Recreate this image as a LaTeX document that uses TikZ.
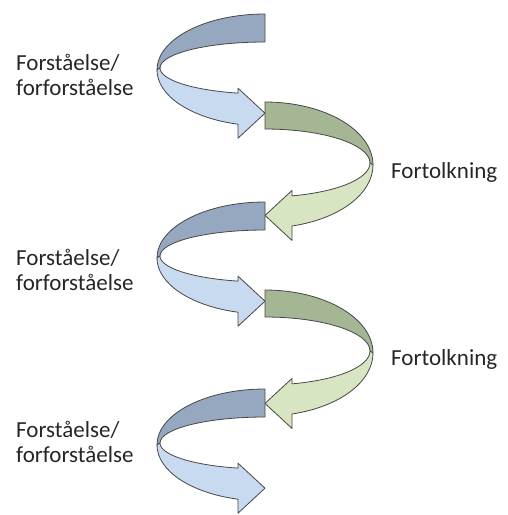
\documentclass[tikz,border=0pt]{standalone}
\usepackage{fontspec}
\setmainfont{Carlito}
\begin{document}
\begin{tikzpicture}[x=1pt,y=-1pt]
\definecolor{bluebk}{HTML}{96A8C0}
\definecolor{bluefr}{HTML}{C8DAF0}
\definecolor{grnbk}{HTML}{A5B695}
\definecolor{grnfr}{HTML}{D7E5C2}
\tikzset{
  rim/.style={draw=black!72, line width=0.8pt, line join=round},
  lbl/.style={anchor=base west, inner sep=0pt, font=\fontsize{23}{25}\selectfont, text=black!85},
  % half turn of a ribbon: #1 outer y radius, #2 inner y radius,
  % #3 colour of the far side, #4 colour of the near side with its head
  pics/coil/.style n args={4}{code={
    \pgfmathsetmacro\so{0.9682*#1}
    \pgfmathsetmacro\si{-2+0.9664*#2}
    \pgfmathsetmacro\hc{(\so+\si)/2+4.5}
    \filldraw[rim, fill=#3] (0,-#1)
      arc[start angle=-90, end angle=-180, x radius=108, y radius=#1]
      -- (-105,-2)
      arc[start angle=180, end angle=270, x radius=105, y radius=#2]
      -- cycle;
    \filldraw[rim, fill=#4] (-108,0)
      arc[start angle=180, end angle=104.48, x radius=108, y radius=#1]
      -- (-27,\hc+25) -- (0,\hc) -- (-27,\hc-25) -- (-27,\si)
      arc[start angle=104.9, end angle=180, x radius=105, y radius=#2]
      -- cycle;
  }}
}
\useasboundingbox (0,0) rectangle (508,515);

% the spiral, top to bottom
\pic (coilA) at (265,70) {coil={56}{26}{bluebk}{bluefr}};
\pic[xscale=-1] (coilB) at (265,165) {coil={63}{34}{grnbk}{grnfr}};
\pic (coilC) at (265,258) {coil={56}{26}{bluebk}{bluefr}};
\pic[xscale=-1] (coilD) at (265,353) {coil={63}{34}{grnbk}{grnfr}};
\pic (coilE) at (265,445) {coil={56}{26}{bluebk}{bluefr}};

% labels
\node[lbl] (u1a) at (16,70) {Forståelse/};
\node[lbl] (u1b) at (16,95) {forforståelse};
\node[lbl] (t1) at (391,178) {Fortolkning};
\node[lbl] (u2a) at (16,265) {Forståelse/};
\node[lbl] (u2b) at (16,290) {forforståelse};
\node[lbl] (t2) at (391,365) {Fortolkning};
\node[lbl] (u3a) at (16,437) {Forståelse/};
\node[lbl] (u3b) at (16,462) {forforståelse};
\end{tikzpicture}
\end{document}
